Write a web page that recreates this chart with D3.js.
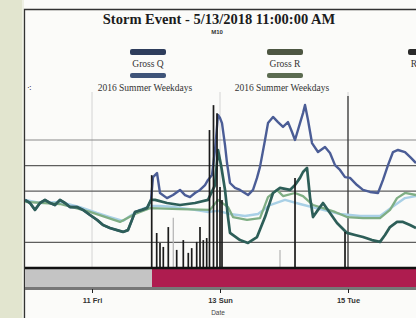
<!DOCTYPE html>
<html>
<head>
<meta charset="utf-8">
<title>Storm Event</title>
<script src="https://cdn.jsdelivr.net/npm/d3@7"></script>
<style>
  body { margin: 0; background: #fff; }
  svg { display: block; }
</style>
</head>
<body>
<svg id="chart" width="416" height="318"></svg>
<script>
// hours are counted from 5/11/2018 00:00
var baseTime = new Date(2018, 4, 11, 0, 0);
var hourDomain = [-25.125, 121.5];
var dayTicks = [0, 48, 96];
var gridValues = [1, 3, 4, 5];
var markerHours = [96];

var grossQ = [[-25.13,2.66],[-23.25,2.54],[-21.38,2.27],[-19.5,2.54],[-17.63,2.66],[-15.75,2.54],[-13.88,2.46],
  [-12.0,2.66],[-10.13,2.54],[-8.25,2.38],[-5.63,2.38],[-3.38,2.27],[-0.75,2.07],[1.88,1.88],[4.13,1.68],
  [6.75,1.56],[9.38,1.48],[11.63,1.41],[13.5,1.48],[15.0,1.88],[16.13,2.19],[18.75,2.27],[20.63,2.34],
  [22.13,2.66],[22.88,3.55],[23.63,3.63],[24.38,3.71],[25.5,2.93],[28.13,2.73],[30.38,2.85],[33.0,3.05],
  [34.88,2.85],[36.75,2.77],[38.63,2.93],[40.5,3.05],[42.38,3.24],[43.5,3.44],[45.0,3.63],[46.13,4.61],
  [47.25,5.98],[48.0,5.86],[48.75,5.66],[49.88,4.80],[50.63,4.10],[51.75,3.32],[53.63,3.13],[55.5,3.05],
  [58.5,2.85],[60.38,3.05],[61.88,3.52],[63.0,3.95],[64.88,5.0],[66.0,5.66],[67.88,5.90],[69.75,5.70],
  [71.63,5.51],[73.5,5.70],[75.0,5.31],[76.13,5.0],[78.0,5.66],[79.13,6.05],[79.88,6.37],[81.0,5.78],
  [82.5,4.88],[84.75,4.53],[87.38,4.73],[89.25,4.49],[91.13,4.02],[93.0,3.83],[94.88,3.55],[96.75,3.52],
  [99.38,3.24],[101.63,3.05],[104.25,2.97],[107.25,2.93],[109.13,3.44],[111.0,4.02],[112.88,4.53],
  [114.75,4.61],[117.38,4.53],[119.63,4.30],[121.5,4.10]];

var grossR = [[-25.13,2.66],[-23.25,2.54],[-21.38,2.27],[-19.5,2.54],[-17.63,2.66],[-15.75,2.54],[-13.88,2.46],
  [-12.0,2.66],[-10.13,2.54],[-8.25,2.38],[-5.63,2.38],[-3.38,2.27],[-0.75,2.07],[1.88,1.88],[4.13,1.68],
  [6.75,1.56],[9.38,1.48],[11.63,1.41],[13.5,1.48],[15.0,1.88],[16.13,2.19],[18.75,2.27],[20.63,2.34],
  [22.13,2.66],[23.63,2.66],[28.13,2.54],[33.0,2.46],[38.63,2.54],[43.5,2.66],[46.13,3.24],[47.25,4.61],
  [48.38,4.02],[49.88,3.05],[51.0,1.99],[51.75,1.37],[55.5,1.09],[58.5,0.98],[61.88,1.21],[64.88,1.99],
  [67.88,2.93],[70.5,3.13],[74.25,3.05],[76.13,3.24],[78.0,3.52],[79.13,3.75],[80.63,3.91],[81.75,2.77],
  [82.88,1.99],[84.75,2.27],[86.63,2.54],[89.25,2.15],[91.88,1.76],[95.63,1.37],[98.63,1.29],[101.63,1.21],
  [105.0,1.09],[108.0,1.02],[109.88,1.29],[111.75,1.60],[114.38,1.80],[116.63,1.80],[119.25,1.68],[121.5,1.56]];

var weekdaysQ = [[-25.13,2.66],[-19.5,2.54],[-12.0,2.58],[-4.5,2.38],[1.88,2.15],[6.75,1.99],[11.63,1.84],
  [14.25,2.03],[18.0,2.27],[21.75,2.42],[25.5,2.42],[31.13,2.38],[36.75,2.30],[43.13,2.19],[47.25,2.23],
  [51.75,2.11],[57.38,2.03],[62.25,2.11],[66.75,2.46],[72.38,2.66],[78.0,2.50],[85.5,2.30],[93.0,2.11],
  [100.5,2.03],[108.0,2.03],[113.63,2.46],[117.38,2.73],[121.5,2.81]];

var weekdaysR = [[-25.13,2.58],[-12.0,2.50],[-0.75,2.19],[10.5,1.80],[16.13,2.11],[21.75,2.34],[33.0,2.30],
  [44.25,2.27],[47.25,2.66],[51.0,2.38],[52.88,1.99],[58.13,1.88],[63.0,1.95],[66.0,2.77],[69.38,3.05],
  [71.63,2.81],[76.13,2.93],[79.13,2.81],[82.88,2.46],[86.63,2.34],[91.13,2.19],[95.63,1.99],[101.63,1.95],
  [108.0,1.95],[111.75,2.27],[114.38,2.73],[117.38,2.93],[121.5,2.85]];

// rainfall, inches
var rainfall = [[22.39,0.313],[24.26,0.118],[25.5,0.084],[26.74,0.071],[28.61,0.138],[31.76,0.061],
  [34.24,0.094],[36.11,0.051],[37.39,0.067],[39.26,0.088],[40.5,0.138],[41.74,0.094],[43.01,0.101],
  [44.06,0.465],[45.56,0.549],[46.88,0.522],[48.0,0.273],[48.75,0.229],[76.13,0.303],[94.88,0.121]];
var rainfall2016 = [[30.49,0.169],[70.5,0.061]];

var eventPeriods = [[-25.125, 22.5], [22.5, 121.5]];

var titleText = "Storm Event - 5/13/2018 11:00:00 AM";
var siteText = "M10";
var legendTop = ["Gross Q", "Gross R", "Rainfall"];
var legendBottom = ["2016 Summer Weekdays", "2016 Summer Weekdays"];

// ---- drawing ----
var svg = d3.select("#chart");
var W = 416, H = 318;
var pl = 25, pr = 416, pt = 92, pb = 268;

function toDate(h) { return new Date(baseTime.getTime() + h * 3600e3); }

var x = d3.scaleTime().domain(hourDomain.map(toDate)).range([pl, pr]);
var y = d3.scaleLinear().domain([0, 7]).range([pb, pb - 7 * 25.6]);
var yRain = d3.scaleLinear().domain([0, 0.6]).range([pb, pb - 178]);

// page backdrop
svg.append("rect").attr("width", W).attr("height", H).attr("fill", "#fbfbf9");
svg.append("rect").attr("x", 0).attr("y", 0).attr("width", 22).attr("height", H).attr("fill", "#e2e5cf");
svg.append("rect").attr("x", 22).attr("y", 0).attr("width", 2).attr("height", H).attr("fill", "#eef0e4");
svg.append("path").attr("d", "M24.5," + H + "V9.5H" + W)
  .attr("fill", "none").attr("stroke", "#333").attr("stroke-width", 1.3);

// title
svg.append("text").attr("x", 219).attr("y", 24).attr("text-anchor", "middle")
  .attr("font-family", "Liberation Serif").attr("font-weight", "bold").attr("font-size", 14.5)
  .attr("fill", "#1c1c1c").text(titleText);
svg.append("text").attr("x", 217).attr("y", 34).attr("text-anchor", "middle")
  .attr("font-family", "Liberation Sans").attr("font-weight", "bold").attr("font-size", 6)
  .attr("fill", "#333").text(siteText);

// legend
var legCx = [148, 285, 426];
var topColors = ["#2e3d5c", "#4d5642", "#2a2a2a"];
var botColors = ["#3f5479", "#5b6b50"];
var leg = svg.append("g").attr("font-family", "Liberation Serif").attr("font-size", 9.5).attr("fill", "#333");
legendTop.forEach(function (t, i) {
  leg.append("rect").attr("x", legCx[i] - 18).attr("y", 49).attr("width", 36).attr("height", 6)
    .attr("rx", 2).attr("fill", topColors[i]);
  leg.append("text").attr("x", legCx[i]).attr("y", 67).attr("text-anchor", "middle").text(t);
});
legendBottom.forEach(function (t, i) {
  leg.append("rect").attr("x", legCx[i] - 18).attr("y", 73).attr("width", 36).attr("height", 5)
    .attr("rx", 2).attr("fill", botColors[i]);
  leg.append("text").attr("x", legCx[i] - 3).attr("y", 91).attr("text-anchor", "middle").text(t);
});
// little zoom icon
svg.append("text").attr("x", 27).attr("y", 91).attr("font-size", 8).attr("fill", "#333")
  .attr("font-family", "DejaVu Sans").text("⁖");

svg.append("clipPath").attr("id", "plot").append("rect")
  .attr("x", pl).attr("y", pt).attr("width", pr - pl).attr("height", pb - pt);
var g = svg.append("g").attr("clip-path", "url(#plot)");

// grid
g.selectAll(".vgrid").data(dayTicks).join("line")
  .attr("x1", function (d) { return x(toDate(d)); }).attr("x2", function (d) { return x(toDate(d)); })
  .attr("y1", pt).attr("y2", pb).attr("stroke", "#d4d4d4").attr("stroke-width", 1);
g.selectAll(".hgrid").data(gridValues).join("line")
  .attr("x1", pl).attr("x2", pr)
  .attr("y1", function (d) { return y(d); }).attr("y2", function (d) { return y(d); })
  .attr("stroke", function (d) { return d == 5 ? "#8a8a8a" : "#5e5e5e"; }).attr("stroke-width", 1.2);
g.selectAll(".marker").data(markerHours).join("line")
  .attr("x1", function (d) { return x(toDate(d)); }).attr("x2", function (d) { return x(toDate(d)); })
  .attr("y1", 96).attr("y2", pb).attr("stroke", "#3a3a3a").attr("stroke-width", 1.3);

var line = d3.line()
  .x(function (d) { return x(toDate(d[0])); })
  .y(function (d) { return y(d[1]); });

function drawLine(data, color, w) {
  g.append("path").datum(data).attr("d", line).attr("fill", "none")
    .attr("stroke", color).attr("stroke-width", w).attr("stroke-linejoin", "round");
}
drawLine(weekdaysQ, "#a9d0e6", 2.4);
drawLine(weekdaysR, "#7fae84", 2.3);

// rain bars
g.selectAll(".rain16").data(rainfall2016).join("line")
  .attr("x1", function (d) { return x(toDate(d[0])); }).attr("x2", function (d) { return x(toDate(d[0])); })
  .attr("y1", pb).attr("y2", function (d) { return yRain(d[1]); })
  .attr("stroke", "#b8b8b8").attr("stroke-width", 1.3);

drawLine(grossQ, "#4b5d96", 2.4);
drawLine(grossR, "#2d5e58", 2.7);

g.selectAll(".rain").data(rainfall).join("line")
  .attr("x1", function (d) { return x(toDate(d[0])); }).attr("x2", function (d) { return x(toDate(d[0])); })
  .attr("y1", pb).attr("y2", function (d) { return yRain(d[1]); })
  .attr("stroke", "#1b1b1b").attr("stroke-width", 1.7);

// event band under the axis
svg.selectAll(".band").data(eventPeriods).join("rect")
  .attr("x", function (d) { return x(toDate(d[0])); })
  .attr("width", function (d) { return x(toDate(d[1])) - x(toDate(d[0])); })
  .attr("y", 269).attr("height", 18)
  .attr("fill", function (d, i) { return i == 0 ? "#c4c4c4" : "#ae1c4f"; });
svg.append("line").attr("x1", pl).attr("x2", pr).attr("y1", 268).attr("y2", 268)
  .attr("stroke", "#111").attr("stroke-width", 2.6);
svg.append("line").attr("x1", pl).attr("x2", pr).attr("y1", 288.5).attr("y2", 288.5)
  .attr("stroke", "#777").attr("stroke-width", 3);

// x axis
var xAxis = d3.axisBottom(x)
  .tickValues(dayTicks.map(toDate))
  .tickFormat(d3.timeFormat("%d %a"))
  .tickSize(4).tickSizeOuter(0);
var ax = svg.append("g").attr("transform", "translate(0,289)").call(xAxis);
ax.select(".domain").remove();
ax.selectAll("line").attr("stroke", "#222");
ax.selectAll("text").attr("font-family", "Liberation Sans").attr("font-weight", "bold")
  .attr("font-size", 7.5).attr("fill", "#333").attr("dy", "0.9em");

svg.append("text").attr("x", 218).attr("y", 315).attr("text-anchor", "middle")
  .attr("font-family", "Liberation Sans").attr("font-size", 6.5).attr("fill", "#444").text("Date");
</script>
</body>
</html>
